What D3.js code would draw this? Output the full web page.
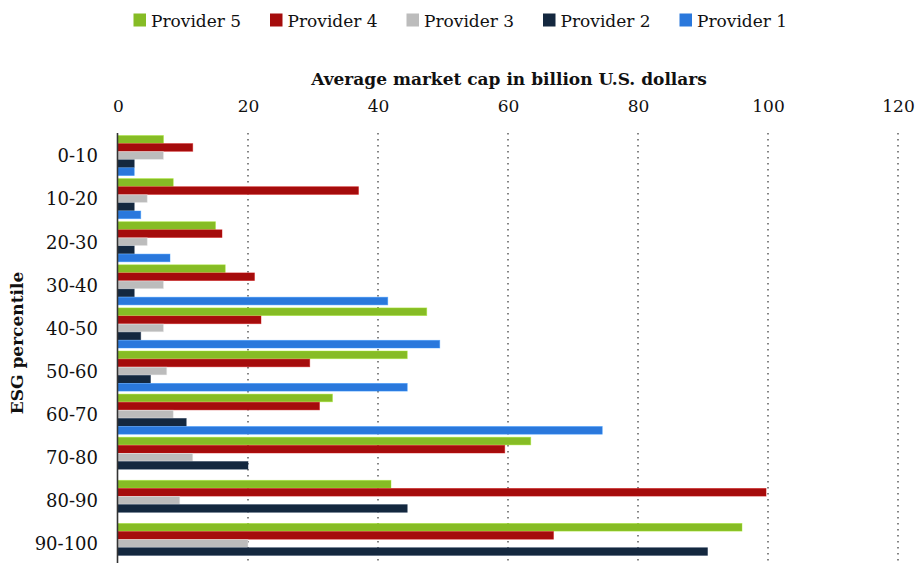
<!DOCTYPE html>
<html>
<head>
<meta charset="utf-8">
<script src="https://cdn.jsdelivr.net/npm/d3@7"></script>
<style>
  html, body { margin: 0; padding: 0; background: #fff; }
  svg { display: block; }
  text { font-family: "DejaVu Serif", "Liberation Serif", serif; fill: #111; }
</style>
</head>
<body>
<svg id="chart" width="923" height="563"></svg>
<script>
// ESG percentile buckets (top to bottom)
const categories = ["0-10", "10-20", "20-30", "30-40", "40-50", "50-60", "60-70", "70-80", "80-90", "90-100"];

// Average market cap (billion U.S. dollars) per provider
const provider5 = [7, 8.5, 15, 16.5, 47.5, 44.5, 33, 63.5, 42, 96];
const provider4 = [11.5, 37, 16, 21, 22, 29.5, 31, 59.5, 99.7, 67];
const provider3 = [7, 4.5, 4.5, 7, 7, 7.5, 8.5, 11.5, 9.5, 20];
const provider2 = [2.5, 2.5, 2.5, 2.5, 3.5, 5, 10.5, 20, 44.5, 90.7];
const provider1 = [2.5, 3.5, 8, 41.5, 49.5, 44.5, 74.5, null, null, null];

const seriesNames = ["Provider 5", "Provider 4", "Provider 3", "Provider 2", "Provider 1"];
const seriesValues = [provider5, provider4, provider3, provider2, provider1];
const seriesColors = ["#86bc25", "#a50c0c", "#bcbcbc", "#14283f", "#2a78dc"];

const xTicks = [0, 20, 40, 60, 80, 100, 120];

const svg = d3.select("#chart");

const plot = { left: 118, right: 898, top: 133, bottom: 565 };

const x = d3.scaleLinear().domain([0, 120]).range([plot.left, plot.right]);

const y0 = d3.scaleBand()
  .domain(categories)
  .range([plot.top + 1, plot.bottom])
  .paddingInner(0.07)
  .paddingOuter(0.035);

const y1 = d3.scaleBand()
  .domain(seriesNames)
  .range([0, y0.bandwidth()])
  .paddingInner(0.05);

// Dotted vertical gridlines
svg.append("g")
  .selectAll("line")
  .data(xTicks.filter(d => d > 0))
  .join("line")
  .attr("x1", d => x(d)).attr("x2", d => x(d))
  .attr("y1", plot.top).attr("y2", plot.bottom)
  .attr("stroke", "#444")
  .attr("stroke-width", 1.3)
  .attr("stroke-dasharray", "1.4,4.6");

// Bars
const rows = [];
categories.forEach((c, i) => {
  seriesNames.forEach((s, j) => {
    const v = seriesValues[j][i];
    if (v != null) rows.push({ cat: c, series: s, value: v, color: seriesColors[j] });
  });
});

svg.append("g")
  .selectAll("rect")
  .data(rows)
  .join("rect")
  .attr("x", x(0))
  .attr("y", d => y0(d.cat) + y1(d.series))
  .attr("width", d => x(d.value) - x(0))
  .attr("height", y1.bandwidth())
  .attr("fill", d => d.color)
  .attr("stroke", d => d3.color(d.color).brighter(0.6))
  .attr("stroke-opacity", 0.55)
  .attr("stroke-width", 0.8);

// Top value axis
const xAxis = d3.axisTop(x).tickValues(xTicks).tickSize(0).tickPadding(0);
const gx = svg.append("g")
  .attr("transform", `translate(0,${plot.top - 21})`)
  .call(xAxis);
gx.select(".domain").remove();
gx.selectAll("text")
  .attr("font-family", "DejaVu Serif")
  .attr("font-size", 17)
  .attr("fill", "#111");

// Category axis on the left
const yAxis = d3.axisLeft(y0).tickSize(0).tickPadding(20);
const gy = svg.append("g")
  .attr("transform", `translate(${plot.left},0)`)
  .call(yAxis);
gy.select(".domain").remove();
gy.selectAll("text")
  .attr("font-family", "DejaVu Serif")
  .attr("font-size", 18)
  .attr("fill", "#111")
  .attr("dy", "0.38em");

// Baseline at zero
svg.append("line")
  .attr("x1", x(0) - 0.5).attr("x2", x(0) - 0.5)
  .attr("y1", plot.top).attr("y2", plot.bottom)
  .attr("stroke", "#333")
  .attr("stroke-width", 1.6);

// Axis titles
svg.append("text")
  .attr("x", (plot.left + plot.right) / 2 + 1)
  .attr("y", 85)
  .attr("text-anchor", "middle")
  .attr("font-weight", "bold")
  .attr("font-size", 17)
  .text("Average market cap in billion U.S. dollars");

svg.append("text")
  .attr("transform", "translate(22.5,343) rotate(-90)")
  .attr("text-anchor", "middle")
  .attr("font-weight", "bold")
  .attr("font-size", 17)
  .text("ESG percentile");

// Legend
const legend = svg.append("g")
  .selectAll("g")
  .data(seriesNames)
  .join("g")
  .attr("transform", (d, i) => `translate(${133.5 + i * 136.5},0)`);

legend.append("rect")
  .attr("x", 0).attr("y", 13.5)
  .attr("width", 12.5).attr("height", 13)
  .attr("fill", (d, i) => seriesColors[i]);

legend.append("text")
  .attr("x", 17.5).attr("y", 26.7)
  .attr("font-size", 17)
  .text(d => d);
</script>
</body>
</html>
